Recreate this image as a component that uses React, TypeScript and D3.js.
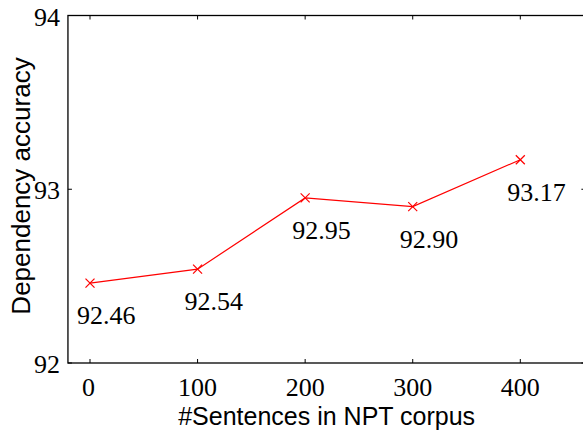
import { useEffect, useRef } from "react";
import * as d3 from "d3";

const sentences = [0, 100, 200, 300, 400];
const accuracy = [92.46, 92.54, 92.95, 92.9, 93.17];
const accuracyLabels = ["92.46", "92.54", "92.95", "92.90", "93.17"];
const yTicks = [92, 93, 94];

const W = 583;
const H = 430;

export default function App() {
  const svgRef = useRef<SVGSVGElement | null>(null);

  useEffect(() => {
    const svg = d3.select(svgRef.current);
    svg.selectAll("*").remove();

    const x = d3.scaleLinear().domain([0, 400]).range([90, 520.3]);
    const y = d3.scaleLinear().domain([92, 94]).range([363, 15.5]);

    const left = x(-20.5);
    const right = x(460.5);
    const top = y(94);
    const bottom = y(92);

    const serif = "'Liberation Serif', 'Times New Roman', serif";
    const sans = "'Liberation Sans', Arial, sans-serif";

    // frame
    svg
      .append("rect")
      .attr("x", left)
      .attr("y", top)
      .attr("width", right - left)
      .attr("height", bottom - top)
      .attr("fill", "none")
      .attr("stroke", "#000")
      .attr("stroke-width", 1.3);

    // ticks on all four sides, pointing inward
    const ticks = svg.append("g").attr("stroke", "#000").attr("stroke-width", 1);
    sentences.forEach((s) => {
      ticks.append("line").attr("x1", x(s)).attr("x2", x(s)).attr("y1", bottom).attr("y2", bottom - 4);
      ticks.append("line").attr("x1", x(s)).attr("x2", x(s)).attr("y1", top).attr("y2", top + 4);
    });
    yTicks.forEach((t) => {
      ticks.append("line").attr("x1", left).attr("x2", left + 4).attr("y1", y(t)).attr("y2", y(t));
      ticks.append("line").attr("x1", right).attr("x2", right - 4).attr("y1", y(t)).attr("y2", y(t));
    });

    svg
      .append("g")
      .selectAll("text")
      .data(sentences)
      .join("text")
      .attr("x", (d) => x(d) - (d === 0 ? 1.5 : 0))
      .attr("y", bottom + 33)
      .attr("text-anchor", "middle")
      .attr("font-family", serif)
      .attr("font-size", 26)
      .text((d) => d);

    svg
      .append("g")
      .selectAll("text")
      .data(yTicks)
      .join("text")
      .attr("x", left - 8)
      .attr("y", (d) => y(d) + 10)
      .attr("text-anchor", "end")
      .attr("font-family", serif)
      .attr("font-size", 26)
      .text((d) => d);

    // axis titles
    svg
      .append("text")
      .attr("x", (left + right) / 2)
      .attr("y", 425)
      .attr("text-anchor", "middle")
      .attr("font-family", sans)
      .attr("font-size", 25)
      .text("#Sentences in NPT corpus");

    svg
      .append("text")
      .attr("transform", "translate(30,186) rotate(-90)")
      .attr("text-anchor", "middle")
      .attr("font-family", sans)
      .attr("font-size", 26)
      .text("Dependency accuracy");

    // series
    const pts = sentences.map((s, i) => [x(s), y(accuracy[i])] as [number, number]);
    svg
      .append("path")
      .attr("d", d3.line()(pts))
      .attr("fill", "none")
      .attr("stroke", "#ff0000")
      .attr("stroke-width", 1.2);

    const r = 4.5;
    const marks = svg.append("g").attr("stroke", "#ff0000").attr("stroke-width", 1.2);
    pts.forEach(([px, py]) => {
      marks.append("line").attr("x1", px - r).attr("x2", px + r).attr("y1", py - r).attr("y2", py + r);
      marks.append("line").attr("x1", px - r).attr("x2", px + r).attr("y1", py + r).attr("y2", py - r);
    });

    svg
      .append("g")
      .selectAll("text")
      .data(pts)
      .join("text")
      .attr("x", (d) => d[0] - 13)
      .attr("y", (d) => d[1] + 41)
      .attr("font-family", serif)
      .attr("font-size", 26)
      .text((_, i) => accuracyLabels[i]);
  }, []);

  return (
    <svg
      ref={svgRef}
      width={W}
      height={H}
      style={{ position: "absolute", left: 0, top: 0, background: "#fff" }}
    />
  );
}
